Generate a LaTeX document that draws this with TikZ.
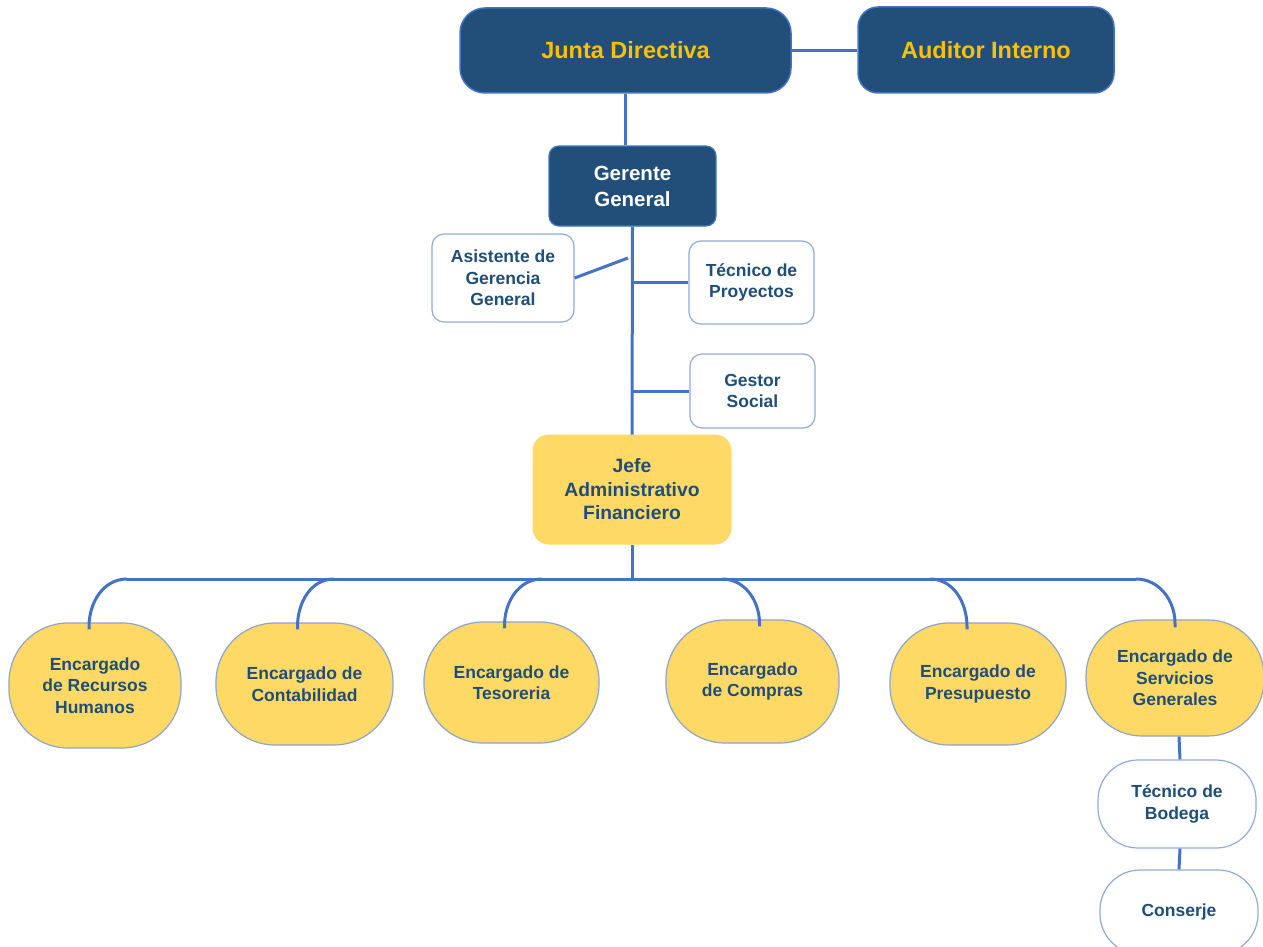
\documentclass[tikz,border=0pt]{standalone}
\usepackage{fontspec}
\setmainfont{Liberation Sans}
\usetikzlibrary{calc}
\definecolor{dkblue}{RGB}{33,79,122}
\definecolor{lnblue}{RGB}{68,114,196}
\definecolor{gold}{RGB}{255,192,0}
\definecolor{yel}{RGB}{255,217,102}
\definecolor{wbord}{RGB}{143,170,220}
\definecolor{ybord}{RGB}{142,164,200}
\definecolor{txtblue}{RGB}{31,78,121}
\begin{document}
\begin{tikzpicture}[x=1pt,y=-1pt,
  topbox/.style={draw=lnblue,line width=1.5pt,fill=dkblue,text=gold,rounded corners=25pt,align=center,inner sep=0pt,font=\bfseries\fontsize{23.5}{28}\selectfont},
  ggbox/.style={draw=lnblue,line width=1.2pt,fill=dkblue,text=white,rounded corners=10pt,align=center,inner sep=0pt,font=\bfseries\fontsize{20.5}{26}\selectfont},
  whbox/.style={draw=wbord,line width=1.2pt,fill=white,text=txtblue,rounded corners=12pt,align=center,inner sep=0pt,font=\bfseries\fontsize{17.5}{21.5}\selectfont},
  jfbox/.style={draw=yel,line width=1pt,fill=yel,text=txtblue,rounded corners=16pt,align=center,inner sep=0pt,font=\bfseries\fontsize{19.3}{23.5}\selectfont},
  encbox/.style={draw=ybord,line width=1.2pt,fill=yel,text=txtblue,rounded corners=59pt,align=center,inner sep=0pt,font=\bfseries\fontsize{17.5}{21.5}\selectfont},
  ovbox/.style={draw=wbord,line width=1.2pt,fill=white,text=txtblue,rounded corners=40pt,align=center,inner sep=0pt,font=\bfseries\fontsize{17.5}{21.5}\selectfont},
  conn/.style={draw=lnblue,line width=3pt}]
\useasboundingbox (0,0) rectangle (1263,947);
\fill[white] (0,0) rectangle (1263,947);
% top level
\node[topbox,minimum width=331pt,minimum height=85pt] (JD) at (625.5,50.5) {Junta Directiva};
\node[topbox,rounded corners=20pt,minimum width=256pt,minimum height=86pt] (AI) at (986,50) {Auditor Interno};
\node[ggbox,minimum width=167pt,minimum height=80pt] (GG) at (632.5,186) {Gerente\\General};
\node[whbox,minimum width=142pt,minimum height=88pt] (AS) at (503,278) {Asistente de\\Gerencia\\General};
\node[whbox,minimum width=125pt,minimum height=83pt] (TP) at (751.5,282.5) {Técnico de\\Proyectos};
\node[whbox,minimum width=125pt,minimum height=74pt] (GS) at (752.5,391) {Gestor\\Social};
\node[jfbox,minimum width=198pt,minimum height=109pt] (JF) at (632,489.5) {Jefe\\Administrativo\\Financiero};
% encargados
\node[encbox,minimum width=172pt,minimum height=125pt] (E1) at (95,685.5) {Encargado\\de Recursos\\Humanos};
\node[encbox,minimum width=177pt,minimum height=122pt] (E2) at (304.5,684) {Encargado de\\Contabilidad};
\node[encbox,minimum width=175pt,minimum height=121pt] (E3) at (511.5,682.5) {Encargado de\\Tesoreria};
\node[encbox,minimum width=173pt,minimum height=123pt] (E4) at (752.5,681.5) {Encargado\\de Compras};
\node[encbox,minimum width=176pt,minimum height=122pt] (E5) at (978,684) {Encargado de\\Presupuesto};
\node[encbox,rounded corners=56pt,minimum width=178pt,minimum height=116pt] (E6) at (1175,678) {Encargado de\\Servicios\\Generales};
\node[ovbox,minimum width=158pt,minimum height=88pt] (TB) at (1177,804) {Técnico de\\Bodega};
\node[ovbox,minimum width=158pt,minimum height=84pt] (CO) at (1179,912) {Conserje};
% coordinates
\coordinate (asend) at (628,258);
\coordinate (b1) at (127,579);
\coordinate (b2) at (334,579);
\coordinate (b3) at (542,579);
\coordinate (b4) at (722,579);
\coordinate (b5) at (930,579);
\coordinate (b6) at (1136,579);
% connectors
\draw[conn] (JD.east) -- (JD.east -| AI.west);
\draw[conn] (JD.south) -- (JD.south |- GG.north);
\draw[conn] (GG.south) -- (JF.north);
\draw[conn] (AS.east) -- (asend);
\draw[conn] (TP.west) -- (TP.west -| GG.south);
\draw[conn] (GS.west) -- (GS.west -| GG.south);
\draw[conn] (JF.south) -- (JF.south |- b1);
\draw[conn,line cap=butt] (b1) -- (b6);
\draw[conn] (b1) to[out=180,in=90] ([xshift=-6pt,yshift=-4pt]E1.north) -- ([xshift=-6pt,yshift=-7pt]E1.north);
\draw[conn] (b2) to[out=180,in=90] ([xshift=-7pt,yshift=-4pt]E2.north) -- ([xshift=-7pt,yshift=-7pt]E2.north);
\draw[conn] (b3) to[out=180,in=90] ([xshift=-7pt,yshift=-4pt]E3.north) -- ([xshift=-7pt,yshift=-7pt]E3.north);
\draw[conn] (b4) to[out=0,in=90] ([xshift=7pt,yshift=-4pt]E4.north) -- ([xshift=7pt,yshift=-7pt]E4.north);
\draw[conn] (b5) to[out=0,in=90] ([xshift=-11pt,yshift=-4pt]E5.north) -- ([xshift=-11pt,yshift=-7pt]E5.north);
\draw[conn] (b6) to[out=0,in=90] ([yshift=-4pt]E6.north) -- ([yshift=-8pt]E6.north);
\draw[conn] ([xshift=4pt]E6.south) -- ([xshift=3pt]TB.north);
\draw[conn] ([xshift=3pt]TB.south) -- ([xshift=0pt]CO.north);
\end{tikzpicture}
\end{document}
